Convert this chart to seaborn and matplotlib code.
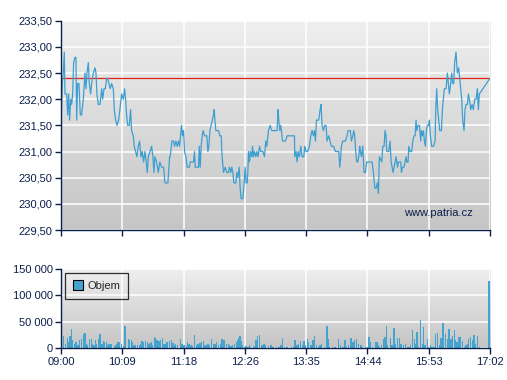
import numpy as np
import matplotlib
matplotlib.use("Agg")
import matplotlib.pyplot as plt
import seaborn as sns
from matplotlib.colors import LinearSegmentedColormap
from matplotlib.lines import Line2D
from matplotlib.ticker import FuncFormatter

# minutes after 09:00 and last price
price_min = [
    0.0, 1.5, 2.6, 3.7, 4.5, 6.4, 7.5, 8.6, 9.7, 10.9, 12.0, 13.1, 14.2, 15.7, 16.8, 17.6,
    18.7, 20.2, 21.7, 23.2, 25.1, 26.9, 28.1, 29.2, 30.7, 31.8, 33.3, 34.4, 36.3, 38.2, 39.3,
    40.4, 41.9, 43.8, 45.7, 46.8, 48.3, 49.8, 51.3, 52.4, 53.9, 55.4, 56.9, 58.8, 59.9, 61.4,
    62.9, 64.7, 66.2, 68.1, 70.0, 71.5, 72.6, 73.7, 74.9, 76.7, 78.2, 79.3, 81.2, 82.3, 83.8,
    85.3, 86.8, 88.3, 89.8, 91.3, 92.8, 94.3, 95.8, 96.9, 98.1, 99.9, 101.8, 103.3, 104.4,
    105.5, 107.4, 109.3, 111.1, 113.0, 115.3, 116.8, 120.1,
    122.0, 122.7, 124.6, 126.5, 127.6, 129.1, 130.6, 132.1, 133.2, 134.3, 135.4, 136.6, 137.7,
    138.8, 140.3, 141.8, 144.0, 145.2, 148.9, 150.0, 150.8, 154.5, 155.3, 156.4, 157.5, 158.6,
    159.8, 161.3, 163.9, 165.0, 166.1, 167.3, 168.7, 170.2, 171.4, 172.1, 172.9, 174.0, 177.0,
    178.5, 180.0, 180.7, 181.5, 182.6, 184.5, 186.3, 188.2, 189.3, 190.8, 191.9, 193.1, 194.2,
    196.4, 197.6, 198.7, 200.2, 201.3, 202.4, 204.3, 205.8, 206.9, 208.0, 209.2, 209.9, 210.7,
    211.8, 212.9, 214.4, 215.2, 216.3, 217.4, 218.9, 220.0, 221.5, 223.0, 224.5, 226.8, 228.6,
    230.1, 231.2, 233.1, 235.0, 236.9, 240.6,
    242.8, 243.9, 244.7, 245.8, 246.9, 247.7, 248.8, 252.2, 254.0, 262.3, 262.6, 264.1, 265.3,
    266.4, 267.9, 269.4, 270.9, 272.8, 273.9, 275.4, 277.2, 279.1, 280.6, 282.1, 283.6, 284.7,
    285.9, 287.0, 289.6, 291.1, 292.2, 293.3, 294.8, 296.3, 297.8, 298.9, 300.8, 302.3, 303.8,
    306.4, 308.3, 312.1, 313.2, 314.3, 315.0, 316.5, 319.5, 321.4, 322.5, 325.1, 326.3, 327.8,
    328.9, 330.0, 331.1, 332.3, 333.4, 334.5, 335.6, 336.4, 337.5, 339.0, 340.5, 342.0, 343.5,
    349.5, 351.0, 352.5, 354.0, 355.5, 356.6, 357.7,
    360.4, 361.5, 363.0, 364.1, 365.2, 366.0, 368.2, 369.7, 370.9, 372.0, 373.1, 374.2, 375.3,
    376.5, 378.0, 379.1, 381.7, 382.5, 383.6, 385.4, 386.6, 387.7, 388.4, 389.9, 390.7, 392.2,
    394.1, 395.2, 396.7, 397.8, 398.9, 399.7, 401.2, 402.7, 404.2, 404.9, 406.0, 407.2, 408.3,
    409.4, 410.5, 411.6, 412.8, 413.9, 415.0, 416.5, 418.4, 420.3, 421.0, 422.1, 423.2, 424.4,
    425.5, 427.4, 428.5, 429.6, 430.7, 432.6, 434.1, 435.2, 436.3, 437.8, 439.0, 440.1, 441.2,
    442.3, 443.8, 445.3, 446.8, 447.9, 449.1, 450.2, 451.3, 452.8, 453.9, 455.1, 456.6, 457.7,
    458.8, 460.3, 461.8, 463.3, 464.8, 466.3, 467.8, 468.9, 470.0, 482.0,
]
price = [
    231.5, 232.3, 232.5, 232.9, 232.1, 232.1, 231.7, 232.1, 231.6, 232.0, 231.9, 232.1, 232.7, 232.8, 232.8, 231.6,
    232.3, 232.3, 231.7, 231.7, 232.0, 232.5, 232.2, 232.5, 232.7, 232.3, 232.1, 232.3, 232.5, 232.6, 232.5,
    232.1, 231.9, 231.9, 232.2, 232.0, 232.2, 232.2, 232.4, 232.4, 232.3, 232.2, 232.3, 232.2, 231.8, 231.6,
    231.5, 231.6, 231.8, 232.1, 232.0, 232.2, 232.0, 231.7, 231.5, 231.5, 231.8, 231.4, 231.3, 231.1, 231.0,
    230.9, 231.1, 231.2, 230.9, 231.0, 230.8, 231.0, 230.8, 230.6, 230.9, 231.0, 231.1, 230.9, 230.6,
    230.9, 230.8, 230.6, 230.8, 230.7, 230.7, 230.4, 230.4,
    230.9, 230.9, 231.2, 231.2, 231.1, 231.2, 231.1, 231.2, 231.1, 231.3, 231.5, 231.3, 231.4,
    231.0, 230.9, 230.7, 230.7, 230.8, 230.8, 231.0, 230.7, 230.7, 231.1, 230.7, 231.1, 231.3,
    231.4, 231.3, 231.3, 231.0, 231.1, 231.4, 231.5, 231.6, 231.7, 231.8, 231.6, 231.4, 231.4,
    231.3, 231.3, 231.0, 230.8, 230.6, 230.7, 230.6, 230.6, 230.7, 230.6, 230.7, 230.6, 230.4,
    230.4, 230.6, 230.5, 230.7, 230.3, 230.1, 230.1, 230.4, 230.7, 230.4, 230.4, 230.6, 231.0,
    230.8, 231.0, 230.9, 231.1, 230.9, 231.0, 230.9, 231.0, 230.9, 231.1, 231.0, 231.0, 230.9,
    231.2, 231.1, 231.4, 231.5, 231.4, 231.4,
    231.4, 231.8, 231.6, 231.4, 231.5, 231.4, 231.2, 231.2, 231.3, 231.3, 230.9, 231.0, 230.8,
    231.0, 230.9, 231.1, 230.9, 230.9, 231.1, 231.0, 231.0, 231.1, 231.3, 231.4, 231.3, 231.4,
    231.2, 231.6, 231.6, 231.8, 231.9, 231.5, 231.4, 231.5, 231.5, 231.2, 231.3, 231.2, 231.1,
    231.1, 231.0, 231.0, 230.7, 230.9, 231.1, 231.2, 231.2, 231.3, 231.4, 231.4, 231.2, 231.3,
    231.4, 231.3, 231.0, 230.8, 230.8, 230.9, 231.1, 231.0, 230.9, 231.1, 230.6, 230.6, 230.8,
    230.8, 230.6, 230.3, 230.3, 230.4, 230.2, 230.9,
    230.8, 231.1, 231.1, 231.4, 231.3, 231.0, 231.0, 231.2, 230.8, 230.7, 230.6, 230.7, 230.8,
    230.9, 230.7, 230.8, 230.8, 230.6, 230.7, 230.7, 230.8, 230.9, 230.8, 230.8, 231.1, 231.0,
    231.0, 231.2, 231.3, 231.3, 231.6, 231.4, 231.5, 231.5, 231.2, 231.4, 231.3, 231.4, 231.2,
    231.1, 231.4, 231.5, 231.5, 231.6, 231.3, 231.1, 231.1, 231.2, 231.8, 232.2, 231.8, 231.6,
    231.4, 231.4, 231.8, 232.0, 232.2, 232.2, 232.5, 232.3, 232.1, 232.3, 232.5, 232.3, 232.3,
    232.7, 232.9, 232.5, 232.6, 232.4, 232.2, 232.0, 231.6, 231.4, 231.8, 231.9, 231.9, 232.1,
    232.0, 231.8, 231.9, 231.8, 232.0, 232.0, 232.2, 231.8, 232.1, 232.4,
]

# volume (thousands of shares) by minute after 09:00
vol_min = [
    0, 3, 5, 7, 9, 10, 12, 13, 15, 17, 19, 21, 23, 25, 27, 28, 30, 32, 34, 35, 37, 39, 40, 42,
    44, 46, 48, 49, 51, 52, 54, 56, 57, 60, 61, 63, 64, 66, 68, 70, 72, 76, 77, 79, 80, 82, 84,
    86, 88, 89, 91, 93, 95, 97, 98, 100, 102, 103, 105, 106, 108, 110, 112, 114, 115, 117, 119,
    120, 122, 124, 126, 127, 129, 131, 134, 136, 137, 139, 141, 142, 144, 146, 147, 150, 152,
    154, 156, 158, 160, 161, 163, 165, 167, 169, 171, 173, 175, 177, 179, 181, 183, 186, 188,
    189, 191, 193, 195, 197, 198, 200, 201, 203, 204, 206, 208, 210, 212, 213, 216, 217, 219,
    221, 223, 226, 228, 230, 233, 236, 238, 242, 245, 247, 249, 251, 254, 259, 261, 263, 265,
    267, 269, 271, 273, 275, 277, 278, 281, 283, 285, 287, 289, 291, 293, 296, 298, 299, 300,
    302, 305, 308, 312, 314, 317, 319, 321, 323, 326, 328, 330, 332, 334, 337, 339, 342, 344,
    346, 348, 350, 353, 355, 357, 358, 360, 362, 364, 366, 367, 370, 372, 374, 376, 378, 380,
    382, 385, 387, 389, 391, 393, 395, 397, 398, 400, 402, 404, 406, 407, 409, 412, 413, 415,
    417, 419, 421, 423, 425, 427, 429, 430, 432, 434, 436, 438, 440, 442, 443, 445, 447, 449,
    451, 453, 455, 457, 458, 460, 462, 464, 466, 468, 470, 481,
]
vol_k = [
    14, 23, 9, 19, 12, 23, 37, 16, 9, 12, 7, 16, 17, 28, 29, 9, 6, 18, 17, 9, 6, 16, 9, 17,
    28, 9, 14, 12, 11, 6, 9, 8, 6, 4, 6, 9, 11, 12, 8, 5, 42, 17, 16, 15, 12, 6, 7,
    6, 6, 8, 14, 11, 14, 12, 9, 10, 11, 7, 21, 19, 16, 13, 16, 19, 9, 8, 12,
    9, 14, 16, 10, 7, 9, 6, 17, 8, 6, 6, 4, 11, 8, 6, 4, 25, 6,
    9, 10, 12, 14, 6, 6, 9, 7, 17, 8, 9, 11, 7, 9, 17, 16, 9, 8,
    6, 4, 7, 9, 12, 16, 19, 23, 14, 6, 3, 4, 3, 7, 3, 4, 3, 16,
    23, 26, 6, 8, 7, 4, 6, 3, 2, 3, 7, 19, 3, 2, 2, 3, 16, 6,
    9, 14, 6, 14, 6, 17, 12, 6, 16, 23, 6, 3, 6, 8, 3, 6, 42, 17,
    2, 2, 3, 17, 6, 3, 16, 3, 7, 19, 12, 16, 17, 9, 6, 3, 3, 3,
    21, 12, 3, 12, 12, 6, 3, 6, 17, 21, 43, 6, 19, 6, 39, 8, 19, 19,
    9, 6, 9, 3, 3, 6, 34, 17, 9, 31, 3, 53, 8, 41, 6, 17, 3, 6,
    3, 3, 28, 29, 6, 19, 47, 46, 28, 17, 37, 17, 23, 34, 16, 12, 22, 21,
    14, 3, 7, 9, 17, 22, 16, 25, 9, 23, 3, 127,
]

ref_price = 232.40
tick_labels = ["09:00", "10:09", "11:18", "12:26", "13:35", "14:44", "15:53", "17:02"]

sns.set_style("white")
plt.rcParams["font.family"] = ["Liberation Sans", "DejaVu Sans"]

navy = "#0b1f4b"
line_blue = "#3d9fd1"
bar_blue = "#45a3d0"
bg = LinearSegmentedColormap.from_list("bg", ["#efefef", "#c5c5c5"])

fig = plt.figure(figsize=(5.07, 3.80), dpi=100)
ax1 = fig.add_axes([0.1203, 0.3947, 0.8462, 0.5508])
ax2 = fig.add_axes([0.1203, 0.0834, 0.8462, 0.2087])

grad = np.linspace(0, 1, 256).reshape(-1, 1)
for ax in (ax1, ax2):
    ax.imshow(grad, extent=[0, 1, 0, 1], transform=ax.transAxes,
              aspect="auto", cmap=bg, zorder=0)

xt = np.arange(8) * 482 / 7

# price panel
sns.lineplot(x=price_min, y=price, ax=ax1, color=line_blue, linewidth=0.9,
             estimator=None, sort=False, zorder=3)
ax1.axhline(ref_price, color="#e2231a", linewidth=0.9, zorder=2)
ax1.set_xlim(0, 482)
ax1.set_ylim(229.5, 233.5)
ax1.set_xticks(xt)
ax1.set_xticklabels([])
ax1.set_yticks(np.arange(229.5, 233.51, 0.5))
ax1.yaxis.set_major_formatter(FuncFormatter(lambda v, p: f"{v:.2f}".replace(".", ",")))
ax1.text(0.96, 0.08, "www.patria.cz", transform=ax1.transAxes, ha="right",
         va="center", color=navy, fontsize=8)

# volume panel
ax2.bar(vol_min, np.array(vol_k) * 1000, width=1.5, color=bar_blue, linewidth=0, zorder=3)
ax2.set_xlim(0, 482)
ax2.set_ylim(0, 150000)
ax2.set_xticks(xt)
ax2.set_xticklabels(tick_labels)
ax2.set_yticks([0, 50000, 100000, 150000])
ax2.yaxis.set_major_formatter(FuncFormatter(lambda v, p: f"{int(v):,}".replace(",", " ")))
handle = Line2D([], [], marker="s", linestyle="none", markersize=7,
                markerfacecolor=bar_blue, markeredgecolor="black", markeredgewidth=0.8)
leg = ax2.legend([handle], ["Objem"], loc="upper left", bbox_to_anchor=(0.009, 0.946),
                 borderaxespad=0, fancybox=False, fontsize=8, handletextpad=0.3,
                 borderpad=0.7, handlelength=1.0)
leg.get_frame().set_facecolor("none")
leg.get_frame().set_edgecolor("black")
leg.get_frame().set_linewidth(0.9)

for ax in (ax1, ax2):
    ax.set_xlabel("")
    ax.set_ylabel("")
    ax.grid(True, color="white", linewidth=1.1)
    ax.set_axisbelow(True)
    sns.despine(ax=ax)
    for s in ("left", "bottom"):
        ax.spines[s].set_color(navy)
        ax.spines[s].set_linewidth(1.0)
        ax.spines[s].set_zorder(4)
    ax.tick_params(direction="out", length=4, width=1, color=navy,
                   labelcolor=navy, labelsize=8, pad=2, left=True, bottom=True)

fig.savefig("out.png", dpi=100)
